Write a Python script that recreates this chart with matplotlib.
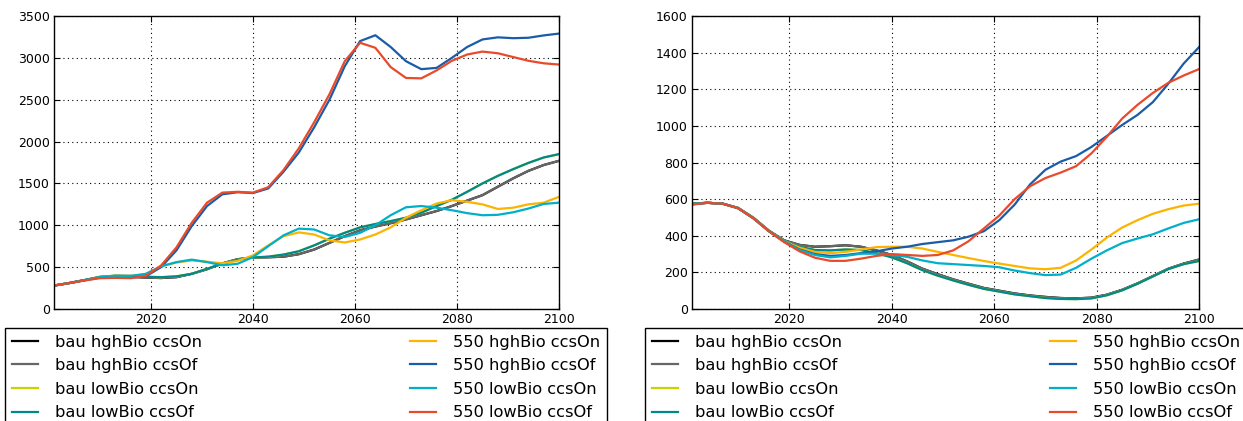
import matplotlib
matplotlib.use("Agg")
import matplotlib.pyplot as plt
from matplotlib.ticker import MultipleLocator

# years shared by both panels (every 3 years)
years = list(range(2001, 2101, 3))

labels = ["bau hghBio ccsOn", "bau hghBio ccsOf", "bau lowBio ccsOn", "bau lowBio ccsOf",
          "550 hghBio ccsOn", "550 hghBio ccsOf", "550 lowBio ccsOn", "550 lowBio ccsOf"]
colors = ["#000000", "#666666", "#c8d200", "#00898c",
          "#fbb400", "#1a5ca8", "#00b0c9", "#e84a2b"]

# ---- left panel ----
L_bau_hgh_of = [280, 310, 345, 380, 385, 385, 375, 370, 380, 420, 475, 545, 595, 615, 618, 625, 655,
                710, 790, 870, 940, 985, 1025, 1070, 1120, 1170, 1230, 1295, 1360, 1460, 1560, 1650, 1720, 1770]
L_bau_hgh_on = L_bau_hgh_of
L_bau_low_of = [280, 310, 345, 385, 398, 395, 385, 380, 390, 420, 480, 540, 590, 615, 625, 650, 690,
                760, 840, 910, 975, 1015, 1050, 1090, 1150, 1230, 1305, 1400, 1500, 1590, 1670, 1745, 1810, 1850]
L_bau_low_on = L_bau_low_of
L_550_hgh_on = [280, 310, 345, 380, 395, 395, 415, 510, 555, 580, 565, 545, 575, 640, 760, 870, 915,
                890, 820, 795, 830, 890, 975, 1090, 1180, 1260, 1300, 1280, 1250, 1195, 1210, 1250, 1270, 1340]
L_550_hgh_of = [280, 310, 345, 375, 380, 378, 390, 500, 700, 990, 1230, 1370, 1395, 1385, 1440, 1640, 1870,
                2170, 2500, 2900, 3200, 3270, 3130, 2960, 2865, 2880, 3000, 3130, 3220, 3245, 3235, 3240, 3268, 3290]
L_550_low_on = [280, 310, 345, 380, 395, 395, 420, 510, 560, 590, 560, 522, 540, 620, 750, 880, 960,
                950, 880, 860, 910, 1000, 1120, 1215, 1230, 1210, 1180, 1145, 1120, 1125, 1155, 1200, 1255, 1270]
L_550_low_of = [280, 310, 340, 368, 372, 368, 395, 520, 735, 1030, 1270, 1390, 1400, 1390, 1455, 1660, 1920,
                2230, 2565, 2960, 3180, 3120, 2890, 2760, 2755, 2850, 2965, 3040, 3075, 3055, 3010, 2965, 2935, 2920]

# ---- right panel ----
R_bau_hgh_of = [575, 580, 575, 552, 498, 428, 375, 350, 340, 343, 348, 340, 320, 295, 260, 220, 190,
                162, 138, 115, 100, 85, 74, 66, 60, 58, 62, 78, 105, 140, 180, 220, 248, 270]
R_bau_hgh_on = R_bau_hgh_of
R_bau_low_of = [575, 580, 575, 552, 497, 427, 372, 340, 322, 320, 325, 322, 305, 282, 250, 212, 182,
                156, 132, 110, 95, 80, 70, 60, 55, 54, 58, 75, 102, 138, 178, 218, 245, 262]
R_bau_low_on = R_bau_low_of
R_550_hgh_on = [572, 580, 575, 551, 496, 426, 370, 335, 312, 305, 312, 325, 338, 340, 340, 330, 312,
                295, 278, 262, 248, 235, 222, 217, 225, 265, 325, 390, 445, 485, 520, 545, 565, 575]
R_550_hgh_of = [572, 580, 575, 550, 495, 425, 368, 325, 300, 290, 295, 305, 315, 330, 340, 355, 365,
                375, 395, 425, 485, 570, 680, 760, 805, 835, 885, 945, 1005, 1060, 1130, 1230, 1340, 1430]
R_550_low_on = [572, 580, 575, 550, 495, 425, 368, 322, 295, 282, 290, 302, 302, 295, 285, 265, 250,
                245, 240, 235, 228, 210, 196, 185, 188, 225, 275, 320, 360, 385, 408, 440, 470, 490]
R_550_low_of = [570, 580, 575, 550, 495, 425, 365, 315, 280, 263, 263, 275, 290, 300, 295, 290, 295,
                320, 370, 440, 510, 600, 670, 715, 745, 780, 850, 940, 1040, 1115, 1180, 1235, 1275, 1310]

left_series = [L_bau_hgh_on, L_bau_hgh_of, L_bau_low_on, L_bau_low_of,
               L_550_hgh_on, L_550_hgh_of, L_550_low_on, L_550_low_of]
right_series = [R_bau_hgh_on, R_bau_hgh_of, R_bau_low_on, R_bau_low_of,
                R_550_hgh_on, R_550_hgh_of, R_550_low_on, R_550_low_of]

W, H = 1243, 421
fig = plt.figure(figsize=(W / 100, H / 100), dpi=100)


def panel(rect, series, ymax, ystep, leg_x, leg_w):
    ax = fig.add_axes(rect)
    for s, lab, c in zip(series, labels, colors):
        ax.plot(years, s, color=c, lw=1.6, label=lab)
    ax.set_xlim(2001, 2100)
    ax.set_ylim(0, ymax)
    ax.xaxis.set_major_locator(MultipleLocator(20))
    ax.yaxis.set_major_locator(MultipleLocator(ystep))
    ax.grid(True, color="black", linestyle=(0, (1, 3)), linewidth=0.8)
    ax.tick_params(direction="in", length=4, top=True, right=True, labelsize=9, pad=3)
    for sp in ax.spines.values():
        sp.set_linewidth(1.0)
    leg = ax.legend(loc="upper left", ncol=2, mode="expand",
                    bbox_to_anchor=(leg_x / W, 93 / H, leg_w / W, 0),
                    bbox_transform=fig.transFigure, borderaxespad=0,
                    fontsize=11.7, handlelength=1.6, handletextpad=1.1,
                    labelspacing=0.53, fancybox=False, framealpha=1)
    leg.get_frame().set_edgecolor("black")
    leg.get_frame().set_linewidth(1.0)
    return ax


panel([54 / W, (H - 309) / H, 505 / W, 293 / H], left_series, 3500, 500, 5, 602)
panel([692 / W, (H - 309) / H, 507 / W, 293 / H], right_series, 1600, 200, 645, 602)

fig.savefig("out.png", dpi=100)
